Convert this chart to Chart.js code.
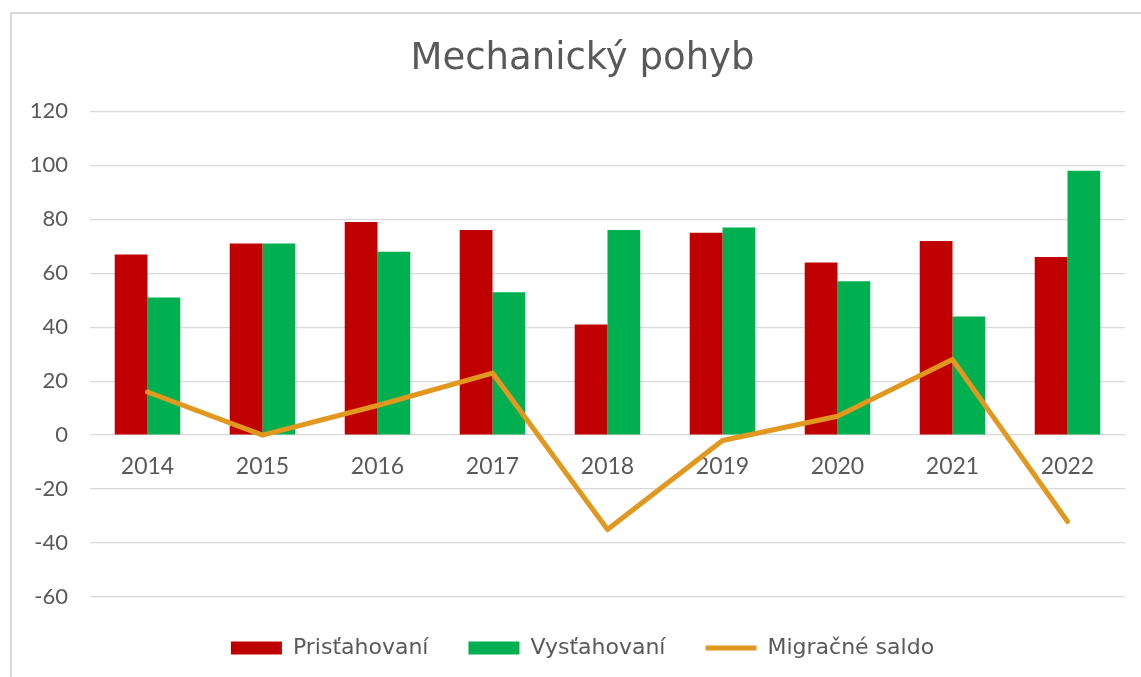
<!DOCTYPE html>
<html>
<head>
<meta charset="utf-8">
<script src="https://cdn.jsdelivr.net/npm/chart.js@4/dist/chart.umd.min.js"></script>
<style>
  html, body { margin: 0; padding: 0; background: #fff; overflow: hidden; }
  #wrap { position: relative; width: 1141px; height: 677px; }
  #frame { position: absolute; left: 10px; top: 12px; width: 1300px; height: 900px; border: 2px solid #d9d9d9; box-sizing: border-box; }
  canvas { position: absolute; left: 0; top: 0; }
</style>
</head>
<body>
<div id="wrap">
  <div id="frame"></div>
  <canvas id="c" width="1141" height="677"></canvas>
</div>
<script>
const categories = ['2014', '2015', '2016', '2017', '2018', '2019', '2020', '2021', '2022'];
const prisťahovaní = [67, 71, 79, 76, 41, 75, 64, 72, 66];
const vysťahovaní = [51, 71, 68, 53, 76, 77, 57, 44, 98];
const migračnéSaldo = [16, 0, 11, 23, -35, -2, 7, 28, -32];
const seriesNames = ['Prisťahovaní', 'Vysťahovaní', 'Migračné saldo'];
const yTicks = [-60, -40, -20, 0, 20, 40, 60, 80, 100, 120];

const TICK_FONT = 'Lato, "Noto Sans", sans-serif';
const WIDE_FONT = '"DejaVu Sans", "Noto Sans", sans-serif';
const TEXT = '#595959';
const RED = '#C00000', GREEN = '#00B050', ORANGE = '#E2971F';

// Title and legend are centred on the whole (wider) chart object in the original
const shiftBlocks = {
  id: 'shiftBlocks',
  afterLayout(chart) {
    if (chart.titleBlock) chart.titleBlock.left += 40;
    if (chart.legend) chart.legend.left += 40;
  }
};

new Chart(document.getElementById('c'), {
  type: 'bar',
  plugins: [shiftBlocks],
  data: {
    labels: categories,
    datasets: [
      { label: seriesNames[0], data: prisťahovaní, backgroundColor: RED, categoryPercentage: 0.57, barPercentage: 1.0, order: 1 },
      { label: seriesNames[1], data: vysťahovaní, backgroundColor: GREEN, categoryPercentage: 0.57, barPercentage: 1.0, order: 2 },
      { type: 'line', label: seriesNames[2], data: migračnéSaldo, borderColor: ORANGE, backgroundColor: ORANGE,
        borderWidth: 5, pointRadius: 0, tension: 0, borderCapStyle: 'round', borderJoinStyle: 'round', order: 0 }
    ]
  },
  options: {
    responsive: false,
    animation: false,
    layout: { padding: { left: 0, right: 16, top: 0, bottom: 8 } },
    scales: {
      x: {
        type: 'category',
        position: { y: 0 },
        grid: { display: false, drawTicks: false },
        border: { display: false },
        ticks: { color: TEXT, font: { family: TICK_FONT, size: 23 }, padding: 18, maxRotation: 0 }
      },
      y: {
        min: yTicks[0],
        max: yTicks[yTicks.length - 1],
        afterBuildTicks: (scale) => { scale.ticks = yTicks.map(v => ({ value: v })); },
        afterFit: (scale) => { scale.width = 90; },
        grid: { color: '#d9d9d9', lineWidth: 1.3, drawTicks: false },
        border: { display: false },
        ticks: { color: TEXT, font: { family: TICK_FONT, size: 22 }, padding: 22 }
      }
    },
    plugins: {
      tooltip: { enabled: false },
      title: {
        display: true,
        text: 'Mechanický pohyb',
        color: TEXT,
        font: { family: WIDE_FONT, size: 37, weight: 'normal' },
        padding: { top: 37, bottom: 30 }
      },
      legend: {
        display: true,
        position: 'bottom',
        labels: {
          color: TEXT,
          font: { family: WIDE_FONT, size: 22 },
          padding: 40,
          usePointStyle: true,
          pointStyleWidth: 51,
          boxHeight: 13,
          generateLabels: (chart) => chart.data.datasets.map((ds, i) => ({
            text: ds.label,
            fillStyle: ds.type === 'line' ? ORANGE : ds.backgroundColor,
            strokeStyle: ds.type === 'line' ? ORANGE : ds.backgroundColor,
            lineWidth: ds.type === 'line' ? 5 : 0,
            pointStyle: ds.type === 'line' ? 'line' : 'rect',
            fontColor: TEXT,
            hidden: false,
            datasetIndex: i
          }))
        }
      }
    }
  }
});
</script>
</body>
</html>
